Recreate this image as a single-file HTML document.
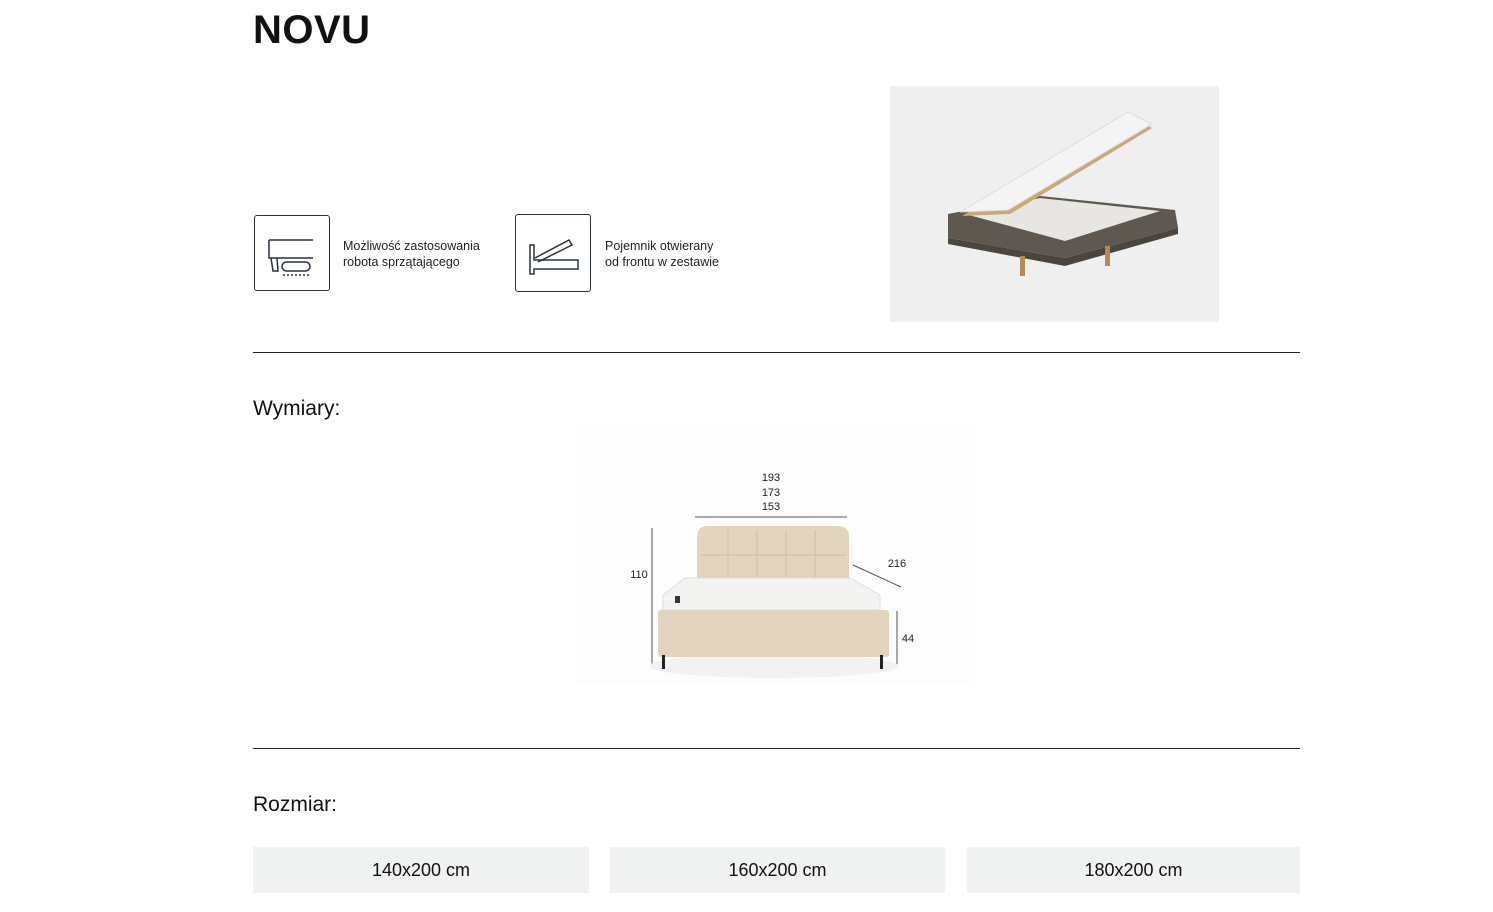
<!DOCTYPE html>
<html><head><meta charset="utf-8"><style>
body{margin:0;width:1493px;height:912px;background:#fff;font-family:"Liberation Sans",sans-serif;color:#111;position:relative;overflow:hidden}
.a{position:absolute}
.box{position:absolute;border:1px solid #2a3240;border-radius:3px;width:74px;height:74px}
.t{position:absolute;font-size:12.5px;line-height:16px;color:#222}
.hr{position:absolute;left:253px;width:1047px;height:1px;background:#222}
.sz{position:absolute;top:847px;height:46px;background:#eff2f1;font-size:18px;text-align:center;line-height:46px;color:#111}
</style></head><body>
<div class="a" style="left:253px;top:8px;font-size:40px;font-weight:bold;letter-spacing:0.5px">NOVU</div>

<div class="box" style="left:254px;top:215px"><svg width="74" height="74" viewBox="0 0 74 74" fill="none" stroke="#2a3240" stroke-width="1.5">
<path d="M14 24 H58 M14 24 V42 H58 M16 42 L18 55 H23 L22 42"/><rect x="27" y="46" width="28" height="9" rx="4.5"/><path d="M28 59 H54" stroke-dasharray="2 2"/></svg></div>
<div class="t" style="left:343px;top:238px">Możliwość zastosowania<br>robota sprzątającego</div>

<div class="box" style="left:515px;top:214px;height:76px"><svg width="74" height="76" viewBox="0 0 74 76" fill="none" stroke="#2a3240" stroke-width="1.5">
<path d="M14 30 V59 H18 V54 H62 V45 H18 V30 Z"/><path d="M19 43 L53 25 L56 30 L22 47"/></svg></div>
<div class="t" style="left:605px;top:238px">Pojemnik otwierany<br>od frontu w zestawie</div>

<div class="a" style="left:890px;top:86px;width:329px;height:236px;background:#efefef">
<svg width="329" height="236" viewBox="0 0 329 236">
<polygon points="58,128 150,110 285,124 288,142 175,172 58,152" fill="#5e5850"/>
<polygon points="58,152 175,172 288,142 288,148 175,180 58,158" fill="#4a453f"/>
<polygon points="75,128 150,112 270,125 175,155" fill="#e8e6e2"/>
<polygon points="72,130 240,30 262,42 120,128" fill="#c9a97a"/>
<polygon points="70,126 238,26 262,38 118,124" fill="#f4f4f4" stroke="#ddd"/>
<rect x="130" y="170" width="5" height="20" fill="#b58a55"/><rect x="215" y="160" width="5" height="20" fill="#b58a55"/>
</svg></div>

<div class="hr" style="top:352px"></div>
<div class="a" style="left:253px;top:397px;font-size:21px">Wymiary:</div>

<div class="a" style="left:575px;top:425px;width:400px;height:260px;background:#fdfdfd"></div>
<svg class="a" style="left:0;top:0" width="1493" height="912">
<g font-family="Liberation Sans" font-size="11" fill="#222" text-anchor="middle">
<text x="771" y="481">193</text><text x="771" y="496">173</text><text x="771" y="510">153</text>
<text x="639" y="578">110</text><text x="897" y="567">216</text><text x="908" y="642">44</text></g>
<g stroke="#555" stroke-width="1"><line x1="695" y1="517" x2="847" y2="517"/><line x1="652" y1="528" x2="652" y2="668"/>
<line x1="853" y1="565" x2="901" y2="587"/><line x1="897" y1="611" x2="897" y2="668"/></g>
<ellipse cx="774" cy="666" rx="125" ry="12" fill="#f2f2f2"/>
<rect x="697" y="526" width="152" height="66" rx="10" fill="#e3d5bd"/>
<g stroke="#cfbf9f" stroke-width="1"><line x1="728" y1="530" x2="728" y2="590"/><line x1="757" y1="530" x2="757" y2="590"/><line x1="786" y1="530" x2="786" y2="590"/><line x1="815" y1="530" x2="815" y2="590"/><line x1="700" y1="555" x2="846" y2="555"/></g>
<polygon points="685,578 850,578 880,595 880,610 663,610 663,595" fill="#f3f3f1" stroke="#ddd"/>
<rect x="675" y="596" width="5" height="7" fill="#334"/>
<rect x="658" y="610" width="231" height="47" rx="3" fill="#e3d5bd"/>
<rect x="662" y="655" width="3" height="14" fill="#222"/><rect x="880" y="655" width="3" height="14" fill="#222"/>
</svg>

<div class="hr" style="top:748px"></div>
<div class="a" style="left:253px;top:793px;font-size:21px">Rozmiar:</div>
<div class="sz" style="left:253px;width:336px">140x200 cm</div>
<div class="sz" style="left:610px;width:335px">160x200 cm</div>
<div class="sz" style="left:967px;width:333px">180x200 cm</div>
</body></html>
